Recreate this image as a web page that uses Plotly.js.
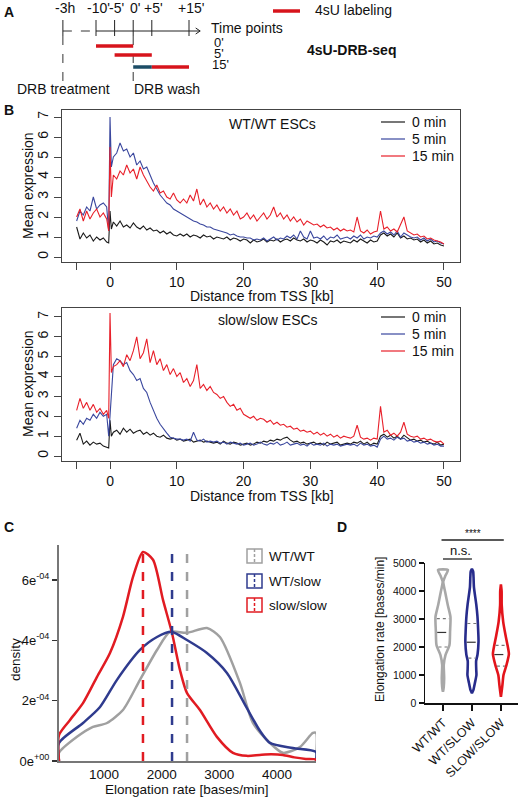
<!DOCTYPE html>
<html><head><meta charset="utf-8">
<script src="https://cdn.plot.ly/plotly-3.0.1.min.js"></script>
<style>html,body{margin:0;padding:0;background:#fff}</style>
</head><body><div id="chart" style="width:520px;height:799px"></div>
<script>
const FONT = 'Liberation Sans, Arial, sans-serif';

// ---------- Panel A: 4sU-DRB-seq scheme ----------
const timeTickPos = [-18.9, -10, -5, 0, 5, 15];   // -3h drawn on a broken axis
const timeTickText = ['-3h', "-10'", "-5'", "0'", "+5'", "+15'"];
const labelNames = ["0'", "5'", "15'"];
const labelStart = [-10, -5, 5];
const labelEnd = [0, 5, 15];
const washSegment = [0, 5];

// ---------- Panel B: metagene profiles ----------
const distanceKb = [
 -5,-4.5,-4,-3.5,-3,-2.5,-2,-1.5,-1,-0.5,
 -0.2,0,0.2,0.5,
 1,1.5,2,2.5,3,3.5,4,4.5,5,5.5,
 6,6.5,7,7.5,8,8.5,9,9.5,10,10.5,
 11,11.5,12,12.5,13,13.5,14,14.5,15,15.5,
 16,16.5,17,17.5,18,18.5,19,19.5,20,20.5,
 21,21.5,22,22.5,23,23.5,24,24.5,25,25.5,
 26,26.5,27,27.5,28,28.5,29,29.5,30,30.5,
 31,31.5,32,32.5,33,33.5,34,34.5,35,35.5,
 36,36.5,37,37.5,38,38.5,39,39.5,40,40.5,
 41,41.5,42,42.5,43,43.5,44,44.5,45,45.5,
 46,46.5,47,47.5,48,48.5,49,49.5,50];

const wt0 = [
 1.5,0.9,1.2,0.95,1.1,0.8,1.0,0.85,0.95,0.75,
 0.7,2.3,1.4,1.75,
 1.55,1.8,1.5,1.6,1.45,1.7,1.5,1.4,1.55,1.35,
 1.45,1.3,1.35,1.2,1.3,1.15,1.25,1.1,1.05,1.15,
 1.05,1.15,1.0,1.1,1.05,0.95,1.1,1.0,1.05,0.9,
 1.0,0.95,0.9,1.0,0.85,0.95,0.9,0.8,0.9,0.85,
 0.7,0.85,0.75,0.8,0.9,0.75,0.85,0.8,0.9,0.75,
 0.85,0.9,0.8,0.95,0.85,0.8,0.9,0.75,0.85,0.8,
 0.7,0.85,0.75,0.6,0.8,0.75,0.85,0.7,0.8,0.75,
 0.7,0.85,0.75,0.9,0.8,0.7,0.85,0.75,0.8,1.1,
 1.2,1.05,1.15,1.0,1.2,0.95,1.05,0.9,0.95,0.85,
 0.9,0.75,0.85,0.7,0.8,0.65,0.7,0.6,0.55];
const wt5 = [
 1.8,2.3,2.1,2.5,2.3,3.0,2.4,2.6,2.7,2.5,
 1.3,7.0,4.5,5.0,
 5.2,5.7,5.3,5.4,5.0,5.2,4.6,4.8,4.4,4.5,
 4.1,3.7,3.4,3.1,2.9,2.7,2.6,2.4,2.3,2.2,
 2.1,2.0,1.9,1.8,1.75,1.65,1.6,1.5,1.5,1.4,
 1.35,1.3,1.25,1.2,1.1,1.15,1.05,1.0,1.0,0.95,
 0.95,0.85,0.9,0.85,0.95,0.8,0.9,1.0,0.85,0.95,
 0.9,1.05,0.95,1.1,0.9,1.3,1.0,0.9,1.3,0.95,
 1.0,0.9,1.05,0.85,1.0,0.95,1.1,0.9,0.95,1.0,
 0.9,1.05,0.95,1.1,0.9,1.0,0.95,1.05,1.0,1.2,
 1.3,1.15,1.25,1.1,1.3,1.0,1.2,1.1,1.0,0.95,
 1.0,0.85,0.95,0.8,0.9,0.75,0.8,0.7,0.65];
const wt15 = [
 2.0,2.4,1.8,2.3,1.9,2.2,2.4,2.0,2.2,1.9,
 1.3,5.5,3.0,4.1,
 3.9,4.3,4.1,4.6,4.2,4.4,3.9,4.5,4.1,3.8,
 3.5,3.3,3.6,3.2,3.3,3.0,2.9,3.2,2.85,2.7,
 2.9,2.7,3.1,2.8,3.4,2.6,2.9,2.5,2.7,2.4,
 2.6,2.3,2.5,2.2,2.4,2.1,2.3,1.9,2.0,2.2,
 1.9,2.1,1.8,2.0,2.2,1.9,2.1,2.5,2.0,2.2,
 1.9,2.1,1.8,2.0,1.75,1.9,1.6,1.8,1.7,1.6,
 1.65,1.5,1.6,1.45,1.5,1.35,1.45,1.3,1.4,1.3,
 1.35,1.25,2.0,1.3,1.2,1.35,1.15,1.25,1.3,2.3,
 1.4,1.5,1.3,1.4,1.25,1.6,2.0,1.3,1.2,1.1,
 1.15,1.0,1.05,0.9,0.95,0.85,0.8,0.75,0.65];

const sl0 = [
 0.8,1.15,0.6,0.75,0.55,0.7,0.6,0.65,0.5,0.45,
 0.4,1.8,1.0,1.2,
 1.3,1.1,1.4,1.2,1.35,1.15,1.25,1.3,1.1,1.2,
 1.05,1.15,1.0,0.95,1.05,0.9,0.85,0.9,0.8,0.85,
 0.75,0.8,0.85,0.7,0.75,0.8,0.7,0.75,0.7,0.65,
 0.7,0.6,0.75,0.65,0.6,0.7,0.65,0.55,0.6,0.65,
 0.55,0.6,0.7,0.65,0.75,0.7,0.8,0.75,0.85,0.8,
 0.9,0.95,0.8,0.7,0.75,0.65,0.7,0.6,0.65,0.7,
 0.6,0.65,0.55,0.7,0.6,0.65,0.7,0.55,0.6,0.65,
 0.6,0.7,0.65,0.75,0.6,0.7,0.55,0.65,0.6,1.0,
 1.1,0.95,1.05,0.9,1.0,0.85,1.05,0.9,0.8,0.85,
 0.75,0.8,0.7,0.75,0.65,0.6,0.7,0.55,0.6];
const sl5 = [
 1.4,1.8,1.6,1.9,1.8,2.1,1.9,2.2,2.0,2.1,
 1.0,2.0,3.3,4.6,
 4.9,4.8,4.6,4.7,4.3,4.1,3.8,3.9,3.4,3.2,
 2.7,2.3,1.9,1.6,1.35,1.15,0.95,0.9,0.85,0.85,
 0.8,0.85,0.75,1.2,0.8,0.75,0.85,0.7,0.75,0.7,
 0.75,0.65,0.7,0.6,0.7,0.65,0.6,0.65,0.55,0.6,
 0.65,0.55,0.6,0.7,0.6,0.55,0.65,0.6,0.7,0.55,
 0.6,0.7,0.55,0.6,0.65,0.55,0.6,0.5,0.65,0.55,
 0.6,0.55,0.65,0.5,0.6,0.55,0.6,0.5,0.55,0.6,
 0.55,0.6,0.5,0.65,0.55,0.6,0.5,0.55,0.45,0.85,
 1.0,0.85,0.9,0.8,0.95,0.85,0.9,0.75,0.8,0.7,
 0.75,0.65,0.7,0.6,0.65,0.55,0.6,0.5,0.5];
const sl15 = [
 2.3,2.9,2.4,2.7,2.3,2.6,2.2,2.4,2.1,2.3,
 1.9,7.2,4.2,4.5,
 4.6,4.8,4.5,5.1,4.8,5.3,6.0,4.9,5.2,5.9,
 4.7,5.3,4.6,4.9,4.3,4.6,4.1,4.4,4.0,4.2,
 3.7,3.9,3.5,3.8,4.6,3.4,3.6,3.3,3.5,3.2,
 3.1,2.9,3.0,2.7,2.5,2.6,2.3,2.4,2.1,2.0,
 1.9,2.0,1.8,1.9,1.85,1.7,1.8,1.6,1.7,1.55,
 1.6,1.45,1.5,1.35,1.4,1.25,1.3,1.2,1.25,1.1,
 1.2,1.05,1.15,1.0,1.1,0.95,1.05,0.9,1.0,0.95,
 0.9,1.0,1.55,0.95,0.85,0.9,0.8,0.9,0.85,2.5,
 1.2,1.3,1.05,1.15,1.0,1.2,1.7,1.1,1.0,0.95,
 1.0,0.85,0.9,0.8,0.85,0.75,0.7,0.75,0.6];

const bSeriesNames = ['0 min', '5 min', '15 min'];

// ---------- Panel C: density of elongation rates (density in units of 1e-4) ----------
const cGroups = ['WT/WT', 'WT/slow', 'slow/slow'];
const rateWT = [220,220,532,809,1052,1329,1624,1919,2144,2438,2785,3010,3357,3582,3877,4102,4397,4622,4676,4676];
const densWT = [0,0.27,0.80,1.13,1.26,1.69,2.69,3.68,4.28,4.25,4.41,4.11,2.59,1.26,0.60,0.27,0.46,0.93,0.93,0];
const rateWS = [220,220,636,931,1225,1624,1919,2178,2438,2785,3132,3478,3704,3877,4276,4676,4676];
const densWS = [0,0.60,1.26,1.79,2.69,3.68,4.11,4.28,4.01,3.58,2.92,1.75,1.0,0.6,0.43,0.30,0];
const rateSS = [220,220,411,636,879,1104,1329,1503,1676,1850,2023,2178,2317,2438,2664,2958,3236,3478,3700,3900,4100,4300,4500,4676,4676];
const densSS = [0,0.86,1.36,1.92,2.79,3.58,4.78,6.1,6.93,6.67,5.34,4.25,3.02,2.26,1.69,0.80,0.27,0.17,0.2,0.22,0.2,0.12,0.07,0.05,0];
const cMedians = [2440, 2180, 1676];

// ---------- Panel D: violins of elongation rate ----------
const dGroups = ['WT/WT', 'WT/SLOW', 'SLOW/SLOW'];
const wtwtRate = [400,450,580,880,1100,1360,1710,2070,2550,3080,3500,3980,4330,4550,4750];
const wtwtDens = [0,0.3,0.8,1.2,1.0,0.8,2.5,6.5,7.1,7.5,4.8,2.1,0.3,2.5,5];
const wtslowRate = [350,470,720,1000,1200,1500,1730,2200,2550,3100,3530,4140,4500,4700,4790];
const wtslowDens = [0,1.5,3.0,4.5,4.3,4.2,5.6,6.6,6.3,5.5,4.3,2.0,1.6,1.2,0];
const slowslowRate = [220,350,640,1000,1360,1750,2070,2430,2900,3500,4000,4240];
const slowslowDens = [0,0.5,1.5,2.6,5.6,8.0,6.6,4.6,2.3,0.8,0.7,0];
const dQ1 = [2000, 1600, 1320];
const dMedian = [2520, 2170, 1730];
const dQ3 = [3010, 2840, 2060];

// ---------- helpers ----------
const W = 520, H = 799;
const X = p => p / W;
const Y = p => 1 - p / H;
const traces = [], annotations = [], shapes = [];
function txt(text, px, py, size, opts) {
  annotations.push(Object.assign({
    text: text, x: X(px), y: Y(py), xref: 'paper', yref: 'paper', showarrow: false,
    xanchor: 'center', yanchor: 'middle',
    font: {family: FONT, size: size, color: '#111'}
  }, opts || {}));
}
function pline(x0, y0, x1, y1, color, width, dash) {
  shapes.push({type: 'line', xref: 'paper', yref: 'paper', x0: X(x0), y0: Y(y0), x1: X(x1), y1: Y(y1),
    line: {color: color, width: width, dash: dash || 'solid'}});
}
function interp(xs, ys, v) {
  for (let i = 0; i < xs.length - 1; i++) {
    if (v >= xs[i] && v <= xs[i + 1]) {
      const t = (v - xs[i]) / (xs[i + 1] - xs[i]);
      return ys[i] + t * (ys[i + 1] - ys[i]);
    }
  }
  return 0;
}

// ---------- Panel A drawing ----------
traces.push({type: 'scatter', x: [], y: [], xaxis: 'x5', yaxis: 'y5', showlegend: false, hoverinfo: 'skip'});
const AX_ROW = 31, ROWS = [46, 55, 67];
const ARROW_END = 18;
shapes.push({type: 'line', xref: 'x5', yref: 'paper', x0: timeTickPos[0], x1: timeTickPos[1], y0: Y(AX_ROW), y1: Y(AX_ROW), line: {color: '#333', width: 1, dash: 'dash'}});
shapes.push({type: 'line', xref: 'x5', yref: 'paper', x0: timeTickPos[1], x1: ARROW_END, y0: Y(AX_ROW), y1: Y(AX_ROW), line: {color: '#222', width: 1}});
shapes.push({type: 'path', xref: 'x5', yref: 'paper',
  path: 'M ' + (ARROW_END - 1.2) + ',' + Y(AX_ROW - 3) + ' L ' + ARROW_END + ',' + Y(AX_ROW) + ' L ' + (ARROW_END - 1.2) + ',' + Y(AX_ROW + 3),
  line: {color: '#222', width: 1}});
timeTickPos.forEach((t, i) => {
  shapes.push({type: 'line', xref: 'x5', yref: 'paper', x0: t, x1: t, y0: Y(20), y1: Y(36), line: {color: '#222', width: 1}});
  annotations.push({text: timeTickText[i], x: t, y: Y(8), xref: 'x5', yref: 'paper', showarrow: false, xanchor: 'center', yanchor: 'middle', xshift: 2, font: {family: FONT, size: 14, color: '#111'}});
});
[timeTickPos[0], 0].forEach(t => {
  shapes.push({type: 'line', xref: 'x5', yref: 'paper', x0: t, x1: t, y0: Y(36), y1: Y(83), line: {color: '#333', width: 1, dash: 'dash'}});
});
shapes.push({type: 'line', xref: 'x5', yref: 'paper', x0: washSegment[0], x1: washSegment[1], y0: Y(ROWS[2]), y1: Y(ROWS[2]), line: {color: '#1c4d66', width: 3.5}});
labelStart.forEach((s, i) => {
  shapes.push({type: 'line', xref: 'x5', yref: 'paper', x0: s, x1: labelEnd[i], y0: Y(ROWS[i]), y1: Y(ROWS[i]), line: {color: '#d7141c', width: 3.5}});
});
txt('Time points', 209, 28, 14, {xanchor: 'left'});
txt(labelNames[0], 212, 42, 13, {xanchor: 'left'});
txt(labelNames[1], 212, 53.5, 13, {xanchor: 'left'});
txt(labelNames[2], 210, 65, 13, {xanchor: 'left'});
txt('DRB treatment', 63, 89, 14);
txt('DRB wash', 132, 89, 14, {xanchor: 'left'});
pline(273, 11, 300, 11, '#d7141c', 3.5);
txt('4sU labeling', 313, 10, 14, {xanchor: 'left'});
txt('<b>4sU-DRB-seq</b>', 305, 50, 14, {xanchor: 'left'});
txt('<b>A</b>', 2, 12, 14, {xanchor: 'left'});

// ---------- Panel B drawing ----------
const bColors = ['#1b1b1b', '#3a479e', '#e8202a'];
[wt0, wt5, wt15].forEach((s, i) => traces.push({type: 'scatter', mode: 'lines', x: distanceKb, y: s, xaxis: 'x', yaxis: 'y', line: {color: bColors[i], width: 1.1}, showlegend: false, hoverinfo: 'skip'}));
[sl0, sl5, sl15].forEach((s, i) => traces.push({type: 'scatter', mode: 'lines', x: distanceKb, y: s, xaxis: 'x2', yaxis: 'y2', line: {color: bColors[i], width: 1.1}, showlegend: false, hoverinfo: 'skip'}));
[[122, 139, 156], [317, 334, 351]].forEach(rows => {
  rows.forEach((py, i) => {
    pline(381, py, 405, py, bColors[i], 1.2);
    txt(bSeriesNames[i], 410, py, 14, {xanchor: 'left'});
  });
});
txt('<b>B</b>', 2, 110, 14, {xanchor: 'left'});
txt('WT/WT ESCs', 272, 124, 14);
txt('slow/slow ESCs', 268, 320, 14);
txt('Mean expression', 28, 186, 14, {textangle: -90});
txt('Mean expression', 28, 384, 14, {textangle: -90});
txt('Distance from TSS [kb]', 262, 296, 14);
txt('Distance from TSS [kb]', 262, 496, 14);

// ---------- Panel C drawing ----------
const cColors = ['#a0a0a0', '#2f3b8e', '#e11b22'];
[[rateWT, densWT], [rateWS, densWS], [rateSS, densSS]].forEach((p, i) => {
  traces.push({type: 'scatter', mode: 'lines', x: p[0], y: p[1], xaxis: 'x3', yaxis: 'y3', line: {color: cColors[i], width: 2.5, shape: 'spline', smoothing: 0.7}, showlegend: false, hoverinfo: 'skip'});
});
cMedians.forEach((m, i) => {
  shapes.push({type: 'line', xref: 'x3', yref: 'y3 domain', x0: m, x1: m, y0: 0, y1: 1, line: {color: cColors[i], width: 2.5, dash: 'dash'}});
});
[556, 581, 605].forEach((py, i) => {
  shapes.push({type: 'rect', xref: 'paper', yref: 'paper', x0: X(247), x1: X(262), y0: Y(py + 7), y1: Y(py - 7), line: {color: cColors[i], width: 1.5}, fillcolor: 'rgba(0,0,0,0)'});
  pline(254.5, py - 7, 254.5, py + 7, cColors[i], 1.5, '3px,2px');
  txt(cGroups[i], 267, py, 13.5, {xanchor: 'left'});
});
txt('<b>C</b>', 2, 527, 14, {xanchor: 'left'});
txt('density', 15, 660, 13.5, {textangle: -90});
txt('Elongation rate [bases/min]', 187, 789, 13.5);

// ---------- Panel D drawing ----------
const dColors = ['#a8a8a8', '#272c8c', '#e3141b'];
const VSCALE = 1 / 29;
const vRates = [wtwtRate, wtslowRate, slowslowRate];
const vDens = [wtwtDens, wtslowDens, slowslowDens];
vRates.forEach((r, g) => {
  const d = vDens[g], xs = [], ys = [];
  for (let i = 0; i < r.length; i++) { xs.push(g + d[i] * VSCALE); ys.push(r[i]); }
  for (let i = r.length - 1; i >= 0; i--) { xs.push(g - d[i] * VSCALE); ys.push(r[i]); }
  xs.push(xs[0]); ys.push(ys[0]);
  traces.push({type: 'scatter', mode: 'lines', x: xs, y: ys, xaxis: 'x4', yaxis: 'y4', line: {color: dColors[g], width: 2.6, shape: 'spline', smoothing: 0.6}, showlegend: false, hoverinfo: 'skip'});
  [[dQ1[g], 'dot', '#777'], [dMedian[g], 'dash', '#333'], [dQ3[g], 'dot', '#777']].forEach(q => {
    const half = Math.max(0, (interp(r, d, q[0]) - 1.3) * VSCALE);
    traces.push({type: 'scatter', mode: 'lines', x: [g - half, g + half], y: [q[0], q[0]], xaxis: 'x4', yaxis: 'y4', line: {color: q[2], width: 1.2, dash: q[1]}, showlegend: false, hoverinfo: 'skip'});
  });
});
shapes.push({type: 'line', xref: 'x4', yref: 'paper', x0: 0, x1: 1, y0: Y(559), y1: Y(559), line: {color: '#222', width: 1.3}});
shapes.push({type: 'line', xref: 'x4', yref: 'paper', x0: -0.05, x1: 2.1, y0: Y(540), y1: Y(540), line: {color: '#222', width: 1.3}});
txt('n.s.', 460, 550, 13);
txt('****', 473, 533, 10);
txt('<b>D</b>', 342, 527, 14);
txt('Elongation rate [bases/min]', 380, 630, 12, {textangle: -90});

// ---------- layout ----------
const tf = s => ({family: FONT, size: s, color: '#111'});
const bX = {range: [-7.19, 52.4], showline: true, mirror: true, linecolor: '#444', linewidth: 1, ticks: 'outside', ticklen: 7, tickwidth: 1, tickcolor: '#444',
  tickvals: [-5, 0, 10, 20, 30, 40, 50], ticktext: [' ', '0', '10', '20', '30', '40', '50'], tickfont: tf(14), showgrid: false, zeroline: false};
const bY = {showline: true, mirror: true, linecolor: '#444', linewidth: 1, ticks: 'outside', ticklen: 7, tickwidth: 1, tickcolor: '#444',
  tickvals: [0, 1, 2, 3, 4, 5, 6, 7], tickangle: -90, tickfont: tf(14), showgrid: false, zeroline: false};

const layout = {
  width: W, height: H, margin: {l: 0, r: 0, t: 0, b: 0},
  paper_bgcolor: '#fff', plot_bgcolor: 'rgba(0,0,0,0)', showlegend: false,
  font: {family: FONT, color: '#111'},
  xaxis: Object.assign({}, bX, {domain: [X(62), X(460)], anchor: 'y'}),
  yaxis: Object.assign({}, bY, {range: [-0.25, 7.35], domain: [Y(262), Y(110)], anchor: 'x'}),
  xaxis2: Object.assign({}, bX, {domain: [X(62), X(460)], anchor: 'y2'}),
  yaxis2: Object.assign({}, bY, {range: [-0.25, 7.45], domain: [Y(461), Y(308)], anchor: 'x2'}),
  xaxis3: {domain: [X(59), X(316)], range: [220, 4676], anchor: 'y3', showline: true, linecolor: '#777', linewidth: 2,
    ticks: '', tickvals: [1000, 2000, 3000, 4000], tickfont: tf(13.5), showgrid: false, zeroline: false},
  yaxis3: {domain: [Y(761), Y(545)], range: [0, 7.16], anchor: 'x3', showline: true, linecolor: '#777', linewidth: 2,
    ticks: 'outside', ticklen: 5, tickwidth: 1.3, tickcolor: '#333', tickvals: [0, 2, 4, 6],
    ticktext: ['0e<sup>+00</sup>', '2e<sup>-04</sup>', '4e<sup>-04</sup>', '6e<sup>-04</sup>'], tickfont: tf(13), showgrid: false, zeroline: false},
  xaxis4: {domain: [X(425), X(518)], range: [-0.62, 2.59], anchor: 'y4', showline: true, linecolor: '#111', linewidth: 1.5,
    ticks: 'outside', ticklen: 6, tickwidth: 1.5, tickcolor: '#111', tickvals: [0, 1, 2], ticktext: dGroups, tickangle: -45,
    tickfont: tf(12.5), showgrid: false, zeroline: false},
  yaxis4: {domain: [Y(703), Y(563)], range: [0, 5000], anchor: 'x4', showline: true, linecolor: '#111', linewidth: 1.5,
    ticks: 'outside', ticklen: 5, tickwidth: 1.5, tickcolor: '#111', tickvals: [0, 1000, 2000, 3000, 4000, 5000],
    tickfont: tf(10.5), showgrid: false, zeroline: false},
  xaxis5: {domain: [0, 1], range: [-35.806, 103.98], anchor: 'y5', visible: false, fixedrange: true},
  yaxis5: {domain: [Y(95), 1], range: [0, 1], anchor: 'x5', visible: false, fixedrange: true},
  shapes: shapes, annotations: annotations
};

Plotly.newPlot('chart', traces, layout, {displayModeBar: false, staticPlot: true});
</script>
</body></html>
